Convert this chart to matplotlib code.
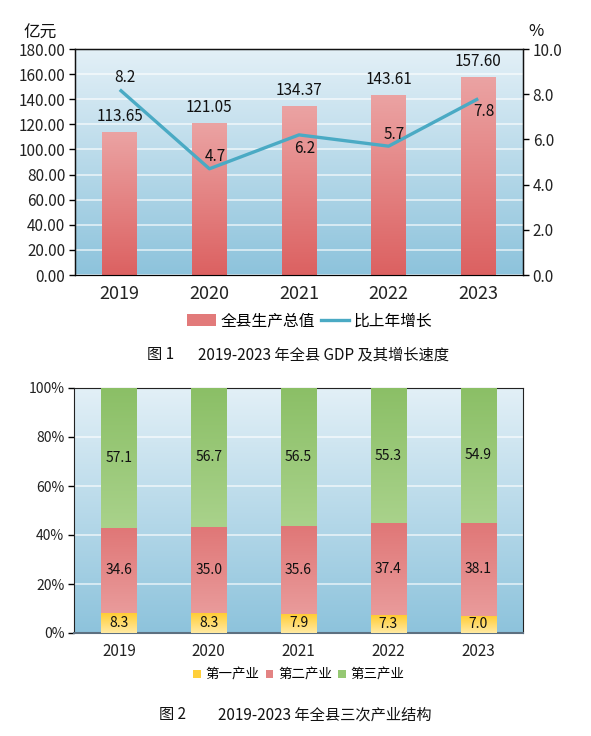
import matplotlib
matplotlib.use("Agg")
import matplotlib.pyplot as plt
import numpy as np
from matplotlib.colors import LinearSegmentedColormap
from matplotlib.patches import Patch
from matplotlib.lines import Line2D

plt.rcParams['font.family'] = ['Noto Sans CJK SC', 'DejaVu Sans']

years = ['2019', '2020', '2021', '2022', '2023']
gdp = [113.65, 121.05, 134.37, 143.61, 157.60]
growth = [8.2, 4.7, 6.2, 5.7, 7.8]
growth_pos = ['above', 'above', 'below', 'above', 'below']
primary = [8.3, 8.3, 7.9, 7.3, 7.0]
secondary = [34.6, 35.0, 35.6, 37.4, 38.1]
tertiary = [57.1, 56.7, 56.5, 55.3, 54.9]

W, H = 591, 736
fig = plt.figure(figsize=(W / 100, H / 100), dpi=100)


def axrect(x0, y0, x1, y1):
    return [x0 / W, 1 - y1 / H, (x1 - x0) / W, (y1 - y0) / H]


def cmap2(top, bottom):
    return LinearSegmentedColormap.from_list('g', [bottom, top])


def background(ax, top='#e3f0f7', bottom='#8dc3dc'):
    grad = np.linspace(0, 1, 256).reshape(-1, 1)
    ax.imshow(grad, extent=[0, 1, 0, 1], transform=ax.transAxes, origin='lower',
              cmap=cmap2(top, bottom), aspect='auto', zorder=0)


def grad_bars(ax, bars, top, bottom):
    grad = np.linspace(0, 1, 256).reshape(-1, 1)
    cm = cmap2(top, bottom)
    for b in bars:
        x0, y0 = b.get_x(), b.get_y()
        w, h = b.get_width(), b.get_height()
        im = ax.imshow(grad, extent=[x0, x0 + w, y0, y0 + h], origin='lower',
                       cmap=cm, aspect='auto', zorder=3)
        im.set_clip_path(b)


x = np.arange(len(years))

# ---------------- Chart 1 ----------------
ax = fig.add_axes(axrect(75, 49, 523, 275))
background(ax)
bars = ax.bar(x, gdp, width=0.39, facecolor='none', edgecolor='none', zorder=3)
grad_bars(ax, bars, '#eba3a3', '#dc6161')
ax.set_xlim(-0.5, 4.5)
ax.set_ylim(0, 180)
ax.set_yticks(np.arange(0, 181, 20))
ax.set_yticklabels([f'{v:.2f}' for v in np.arange(0, 181, 20)], fontsize=11, color='#222222')
ax.set_xticks(x)
ax.set_xticklabels(years, fontsize=13, color='#222222')
ax.tick_params(axis='x', length=0, pad=7)
ax.tick_params(axis='y', length=4, width=1, pad=3)
ax.yaxis.grid(True, color='white', linewidth=1.1, alpha=0.75)
for gl in ax.get_ygridlines():
    gl.set_zorder(1)
for s in ['left', 'right', 'top']:
    ax.spines[s].set_color('#111111')
    ax.spines[s].set_linewidth(1)
ax.spines['bottom'].set_color('#333333')
for xi, v in zip(x, gdp):
    ax.annotate(f'{v:.2f}', (xi, v), xytext=(0, 5), textcoords='offset points',
                ha='center', va='bottom', fontsize=11, color='#111111', zorder=6)

ax2 = ax.twinx()
ax2.plot(x, growth, color='#4aaac4', linewidth=2.4, zorder=5, solid_capstyle='butt')
ax2.set_ylim(0, 10)
ax2.set_yticks(np.arange(0, 10.1, 2))
ax2.set_yticklabels([f'{v:.1f}' for v in np.arange(0, 10.1, 2)], fontsize=11, color='#222222')
ax2.tick_params(axis='y', length=4, width=1, pad=3)
for s in ['left', 'right', 'top']:
    ax2.spines[s].set_color('#111111')
for xi, v, p in zip(x, growth, growth_pos):
    dy = 8.5 if p == 'above' else -9.5
    ax2.annotate(f'{v:.1f}', (xi, v), xytext=(4, dy), textcoords='offset points',
                 ha='center', va='center', fontsize=11, color='#111111', zorder=6)

fig.text(40 / W, 1 - 33 / H, '亿元', fontsize=12, ha='center', va='center', color='#111111')
fig.text(536 / W, 1 - 31 / H, '%', fontsize=12, ha='center', va='center', color='#111111')

h1 = Patch(facecolor='#e27a7a', edgecolor='none')
h2 = Line2D([0], [0], color='#4aaac4', linewidth=2.4)
fig.legend([h1, h2], ['全县生产总值', '比上年增长'], loc='center',
           bbox_to_anchor=(310 / W, 1 - 321 / H), ncol=2, frameon=False,
           fontsize=11.3, handlelength=1.8, handleheight=0.75, handletextpad=0.3,
           columnspacing=0.4, borderpad=0)

fig.text(147 / W, 1 - 355 / H, '图 1', fontsize=11, ha='left', va='center',
         color='#111111', fontweight='medium')
fig.text(198 / W, 1 - 355 / H, '2019-2023 年全县 GDP 及其增长速度', fontsize=11,
         ha='left', va='center', color='#111111', fontweight='medium')

# ---------------- Chart 2 ----------------
bx = fig.add_axes(axrect(74, 388, 523, 633))
background(bx)
bottoms2 = np.array(primary)
bottoms3 = bottoms2 + np.array(secondary)
b1 = bx.bar(x, primary, width=0.39, facecolor='none', edgecolor='none', zorder=3)
b2 = bx.bar(x, secondary, bottom=bottoms2, width=0.39, facecolor='none', edgecolor='none', zorder=3)
b3 = bx.bar(x, tertiary, bottom=bottoms3, width=0.39, facecolor='none', edgecolor='none', zorder=3)
grad_bars(bx, b1, '#ffcb30', '#ffeaa3')
grad_bars(bx, b2, '#e07777', '#e99b9b')
grad_bars(bx, b3, '#8bbf66', '#a9d28b')
bx.set_xlim(-0.5, 4.5)
bx.set_ylim(0, 100)
bx.set_yticks(np.arange(0, 101, 20))
bx.set_yticklabels([f'{v}%' for v in range(0, 101, 20)], fontsize=10, color='#222222')
bx.set_xticks(x)
bx.set_xticklabels(years, fontsize=11, color='#222222')
bx.tick_params(axis='x', length=0, pad=7)
bx.tick_params(axis='y', length=4, width=1, pad=3)
bx.yaxis.grid(True, color='white', linewidth=1.1, alpha=0.75)
for gl in bx.get_ygridlines():
    gl.set_zorder(1)
for s in ['left', 'right', 'top']:
    bx.spines[s].set_color('#222222')
bx.spines['bottom'].set_color('#5d7080')
bx.spines['bottom'].set_linewidth(1.5)
for series, base in [(primary, np.zeros(5)), (secondary, bottoms2), (tertiary, bottoms3)]:
    for xi, v, b0 in zip(x, series, base):
        bx.text(xi, b0 + v / 2, f'{v:.1f}', ha='center', va='center', fontsize=10,
                color='#111111', zorder=6)

hh = [Patch(facecolor='#ffcf3a', edgecolor='none'),
      Patch(facecolor='#e38383', edgecolor='none'),
      Patch(facecolor='#95c873', edgecolor='none')]
fig.legend(hh, ['第一产业', '第二产业', '第三产业'], loc='center',
           bbox_to_anchor=(299 / W, 1 - 675 / H), ncol=3, frameon=False,
           fontsize=9.7, handlelength=0.55, handleheight=0.55, handletextpad=0.37,
           columnspacing=0.45, borderpad=0)

fig.text(159 / W, 1 - 715 / H, '图 2', fontsize=11, ha='left', va='center',
         color='#111111', fontweight='medium')
fig.text(218 / W, 1 - 715 / H, '2019-2023 年全县三次产业结构', fontsize=11,
         ha='left', va='center', color='#111111', fontweight='medium')

fig.savefig('out.png', dpi=100)
